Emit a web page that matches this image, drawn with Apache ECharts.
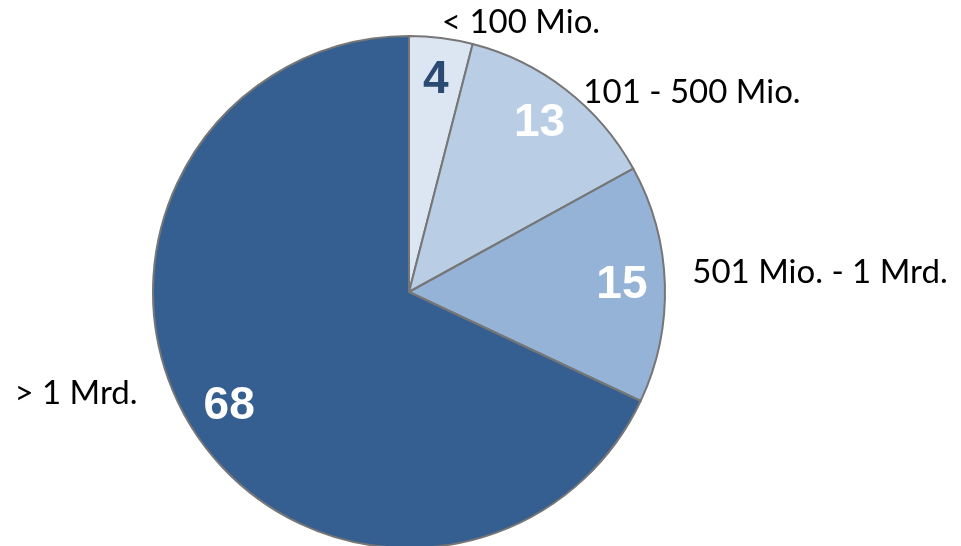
<!DOCTYPE html>
<html>
<head>
<meta charset="utf-8">
<script src="https://cdn.jsdelivr.net/npm/echarts@6/dist/echarts.min.js"></script>
<style>html,body{margin:0;padding:0;background:#fff}#c{width:961px;height:546px}</style>
</head>
<body>
<div id="c"></div>
<script>
var categories = ['< 100 Mio.', '101 - 500 Mio.', '501 Mio. - 1 Mrd.', '> 1 Mrd.'];
var values = [4, 13, 15, 68];
var colors = ['#dce6f2', '#b9cde5', '#95b3d7', '#365f91'];
var innerLabelColors = ['#2b4a72', '#ffffff', '#ffffff', '#ffffff'];
// outer label anchor points (layout only)
var outerLabelPos = [[521, 22], [692, 92], [820, 272], [76, 393]];

var chart = echarts.init(document.getElementById('c'));
var center = [409, 292];
var R = 256;

function mk(extra) {
  return categories.map(function (c, i) {
    var o = { name: c, value: values[i] };
    if (extra) extra(o, i);
    return o;
  });
}

chart.setOption({
  animation: false,
  series: [
    {
      type: 'pie',
      center: center,
      radius: [0, R],
      startAngle: 90,
      clockwise: true,
      avoidLabelOverlap: false,
      silent: true,
      itemStyle: { borderColor: '#767676', borderWidth: 2 },
      label: {
        show: true,
        position: 'outside',
        formatter: '{b}',
        fontFamily: 'Lato',
        fontSize: 33,
        color: '#000'
      },
      labelLine: { show: false },
      labelLayout: function (p) {
        var pos = outerLabelPos[p.dataIndex];
        return { x: pos[0], y: pos[1], align: 'center', verticalAlign: 'middle' };
      },
      data: mk(function (o, i) { o.itemStyle = { color: colors[i] }; })
    },
    {
      type: 'pie',
      center: center,
      radius: [164, R],
      startAngle: 90,
      clockwise: true,
      silent: true,
      z: 5,
      itemStyle: { color: 'rgba(0,0,0,0)', borderWidth: 0 },
      label: {
        show: true,
        position: 'inside',
        formatter: '{c}',
        fontFamily: 'Liberation Sans',
        fontWeight: 'bold',
        fontSize: 46
      },
      labelLine: { show: false },
      data: mk(function (o, i) { o.label = { color: innerLabelColors[i] }; })
    }
  ]
});
</script>
</body>
</html>
